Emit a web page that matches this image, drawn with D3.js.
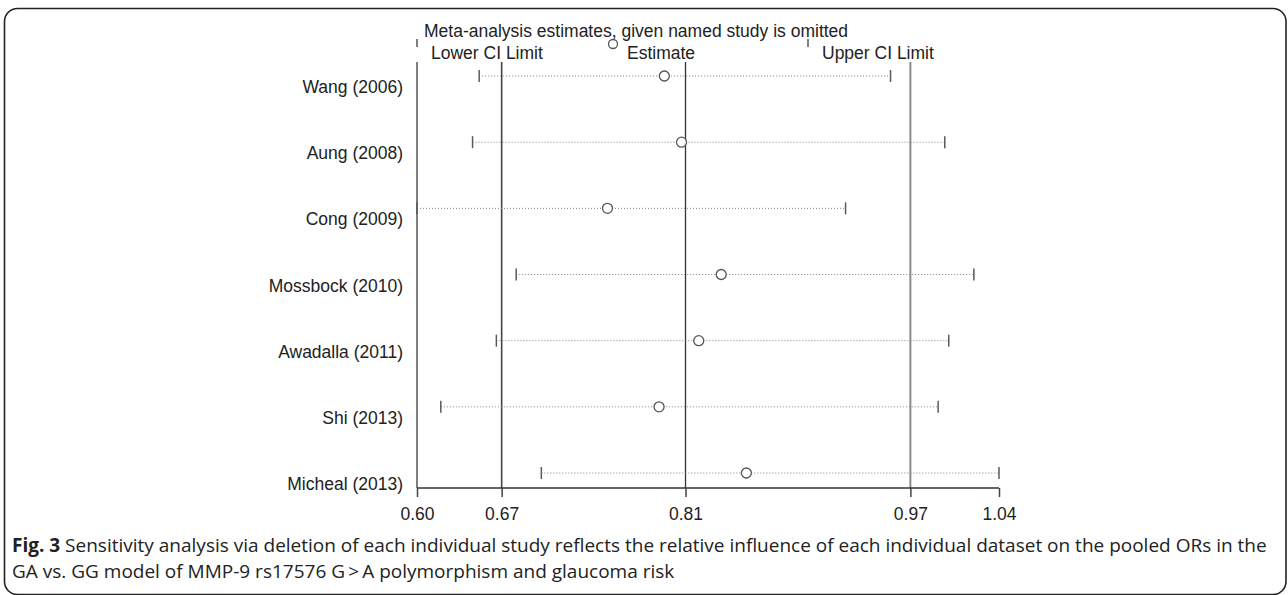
<html>
<head>
<script src="https://d3js.org/d3.v7.min.js"></script>
<style>
  body { margin: 0; background: #fff; }
  .chart text { font-family: "Liberation Sans", Arial, sans-serif; }
  .caption text { font-family: "Open Sans", "Noto Sans", sans-serif; }
</style>
</head>
<body>
<script>
    // studies omitted one at a time, with the pooled OR and its CI when it is left out
    var studies = ["Wang (2006)", "Aung (2008)", "Cong (2009)", "Mossbock (2010)",
                   "Awadalla (2011)", "Shi (2013)", "Micheal (2013)"];
    var estimates = [0.787, 0.800, 0.744, 0.830, 0.813, 0.783, 0.849];
    var lowerCI   = [0.647, 0.642, 0.600, 0.675, 0.660, 0.618, 0.694];
    var upperCI   = [0.958, 0.999, 0.924, 1.021, 1.002, 0.994, 1.040];

    // axis marks: range ends plus the overall lower CI, estimate, upper CI
    var tickValues = [0.600, 0.664, 0.803, 0.973, 1.040];
    var tickLabels = ["0.60", "0.67", "0.81", "0.97", "1.04"];
    var pooled = [0.664, 0.803, 0.973];

    var title = "Meta-analysis estimates, given named study is omitted";
    var legendLabels = ["Lower CI Limit", "Estimate", "Upper CI Limit"];

    var width = 1288, height = 595;
    var svg = d3.select("body").append("svg")
        .attr("width", width)
        .attr("height", height);

    // rounded frame round the figure
    svg.append("rect")
        .attr("x", 4.5).attr("y", 8.5)
        .attr("width", 1281.5).attr("height", 586)
        .attr("rx", 13).attr("ry", 13)
        .attr("fill", "none")
        .attr("stroke", "#222")
        .attr("stroke-width", 1.6);

    var plot = {left: 417, right: 999, top: 62, bottom: 488};

    var x = d3.scaleLinear().domain([0.60, 1.04]).range([plot.left, plot.right]);
    var y = d3.scalePoint().domain(studies).range([76, 473]);

    var g = svg.append("g").attr("class", "chart");

    // left axis line
    g.append("line")
        .attr("x1", plot.left).attr("x2", plot.left)
        .attr("y1", plot.top).attr("y2", plot.bottom)
        .attr("stroke", "#555").attr("stroke-width", 1.5);

    // vertical reference lines at the overall estimate and CI
    var refColors = ["#444", "#333", "#8c8c8c"];
    var refWidths = [1.6, 1.3, 2];
    g.selectAll(".ref").data(pooled).enter().append("line")
        .attr("class", "ref")
        .attr("x1", function(d) {return x(d);})
        .attr("x2", function(d) {return x(d);})
        .attr("y1", plot.top).attr("y2", plot.bottom)
        .attr("stroke", function(d, i) {return refColors[i];})
        .attr("stroke-width", function(d, i) {return refWidths[i];});

    // bottom axis
    var xAxis = d3.axisBottom(x)
        .tickValues(tickValues)
        .tickFormat(function(d, i) {return tickLabels[i];})
        .tickSize(9)
        .tickPadding(11);

    var ax = g.append("g")
        .attr("transform", "translate(0," + plot.bottom + ")")
        .call(xAxis);
    ax.select(".domain").attr("d", "M" + plot.left + ",0H" + plot.right)
        .attr("stroke", "#333").attr("stroke-width", 1.5);
    ax.selectAll(".tick line").attr("stroke", "#444").attr("stroke-width", 1.5);
    ax.selectAll(".tick text")
        .attr("font-size", 17.5)
        .attr("fill", "#222");

    // study labels
    g.selectAll(".lab").data(studies).enter().append("text")
        .attr("class", "lab")
        .attr("x", 403)
        .attr("y", function(d) {return y(d) + 17;})
        .attr("text-anchor", "end")
        .attr("font-size", 17.5)
        .attr("fill", "#222")
        .text(function(d) {return d;});

    // CI rows
    var rows = g.selectAll(".row").data(studies).enter().append("g")
        .attr("class", "row")
        .attr("transform", function(d) {return "translate(0," + y(d) + ")";});

    rows.append("line")
        .attr("x1", function(d, i) {return x(lowerCI[i]);})
        .attr("x2", function(d, i) {return x(upperCI[i]);})
        .attr("stroke", "#808080")
        .attr("stroke-width", 1)
        .attr("stroke-dasharray", "1,2");

    [lowerCI, upperCI].forEach(function(arr) {
        rows.append("line")
            .attr("x1", function(d, i) {return x(arr[i]);})
            .attr("x2", function(d, i) {return x(arr[i]);})
            .attr("y1", -6).attr("y2", 6)
            .attr("stroke", "#5a5a5a")
            .attr("stroke-width", 1.5);
    });

    rows.append("circle")
        .attr("cx", function(d, i) {return x(estimates[i]);})
        .attr("r", 5)
        .attr("fill", "#fff")
        .attr("stroke", "#555")
        .attr("stroke-width", 1.3);

    // legend
    g.append("text")
        .attr("x", 424).attr("y", 37)
        .attr("font-size", 17.5)
        .attr("fill", "#222")
        .text(title);

    var legendX = [417, 613, 808];
    var leg = g.selectAll(".leg").data(legendLabels).enter().append("g")
        .attr("class", "leg")
        .attr("transform", function(d, i) {return "translate(" + legendX[i] + ",0)";});

    leg.append("text")
        .attr("x", 14).attr("y", 59)
        .attr("font-size", 17.5)
        .attr("fill", "#222")
        .text(function(d) {return d;});

    leg.filter(function(d, i) {return i !== 1;}).append("line")
        .attr("y1", 39).attr("y2", 47)
        .attr("stroke", "#555").attr("stroke-width", 1.5);

    leg.filter(function(d, i) {return i === 1;}).append("circle")
        .attr("cy", 44).attr("r", 4.5)
        .attr("fill", "#fff")
        .attr("stroke", "#555").attr("stroke-width", 1.3);

    // caption
    var cap = svg.append("g")
        .attr("class", "caption")
        .attr("font-size", 19)
        .attr("fill", "#222");

    var line1 = cap.append("text").attr("x", 12).attr("y", 552);
    line1.append("tspan").attr("font-weight", "bold").text("Fig. 3");
    line1.append("tspan").text(" Sensitivity analysis via deletion of each individual study reflects the relative influence of each individual dataset on the pooled ORs in the");
    cap.append("text").attr("x", 12).attr("y", 578)
        .text("GA vs. GG model of MMP-9 rs17576 G\u2009>\u2009A polymorphism and glaucoma risk");
</script>
</body>
</html>
